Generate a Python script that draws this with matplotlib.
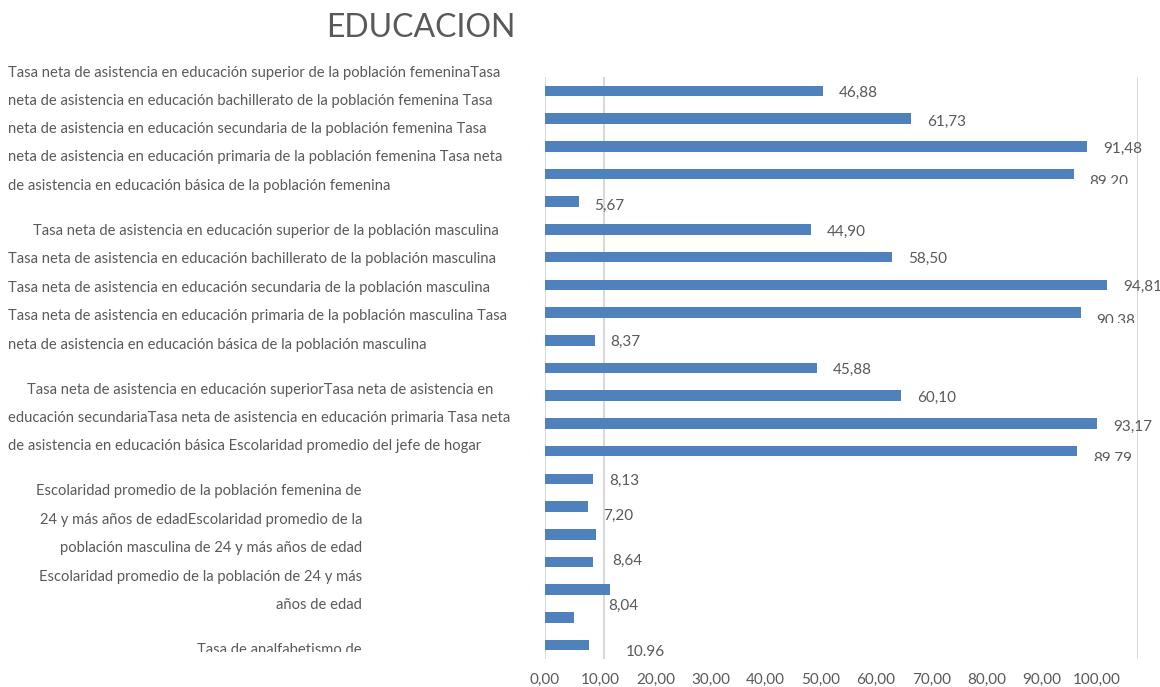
import matplotlib.pyplot as plt
from matplotlib.ticker import FixedLocator, FuncFormatter
from matplotlib.transforms import Bbox, TransformedBbox

plt.rcParams['font.family'] = ['Lato', 'DejaVu Sans']

# valores de las barras, de arriba hacia abajo
valores = [46.88, 61.73, 91.48, 89.20, 5.67, 44.90, 58.50, 94.81, 90.38, 8.37,
           45.88, 60.10, 93.17, 89.79, 8.13, 7.20, 8.64, 8.04, 10.96, 4.85, 7.50]
etiquetas = ['46,88', '61,73', '91,48', '89,20', '5,67', '44,90', '58,50', '94,81',
             '90,38', '8,37', '45,88', '60,10', '93,17', '89,79', '8,13', '7,20',
             '8,64', '8,04', '10.96', '', '']
ticks_eje = [0, 10, 20, 30, 40, 50, 60, 70, 80, 90, 100]

# las etiquetas del original quedaron corridas hacia abajo (px)
desp = [2, 3, 3, 8, 4, 2, 2, 2, 8, 2, 2, 2, 3, 8, 2, 9, 27, 44, 62, 0, 0]
cortadas = [3, 8, 13]

# textos de categoria (quedaron amontonados a la izquierda)
bloques = [
    (8, 73, 'left', 'Tasa neta de asistencia en educación superior de la población femeninaTasa'),
    (8, 101, 'left', 'neta de asistencia en educación bachillerato de la población femenina Tasa'),
    (8, 129, 'left', 'neta de asistencia en educación secundaria de la población femenina Tasa'),
    (8, 157, 'left', 'neta de asistencia en educación primaria de la población femenina Tasa neta'),
    (8, 186, 'left', 'de asistencia en educación básica de la población femenina'),
    (33, 231, 'left', 'Tasa neta de asistencia en educación superior de la población masculina'),
    (8, 259, 'left', 'Tasa neta de asistencia en educación bachillerato de la población masculina'),
    (8, 288, 'left', 'Tasa neta de asistencia en educación secundaria de la población masculina'),
    (8, 316, 'left', 'Tasa neta de asistencia en educación primaria de la población masculina Tasa'),
    (8, 345, 'left', 'neta de asistencia en educación básica de la población masculina'),
    (27, 390, 'left', 'Tasa neta de asistencia en educación superiorTasa neta de asistencia en'),
    (8, 418, 'left', 'educación secundariaTasa neta de asistencia en educación primaria Tasa neta'),
    (8, 446, 'left', 'de asistencia en educación básica Escolaridad promedio del jefe de hogar'),
    (362, 491, 'right', 'Escolaridad promedio de la población femenina de'),
    (362, 520, 'right', '24 y más años de edadEscolaridad promedio de la'),
    (362, 548, 'right', 'población masculina de 24 y más años de edad'),
    (362, 577, 'right', 'Escolaridad promedio de la población de 24 y más'),
    (362, 605, 'right', 'años de edad'),
    (362, 650, 'right', 'Tasa de analfabetismo de'),
]

W, H = 1160, 687
gris = '#595959'
azul = '#4F81BD'

fig = plt.figure(figsize=(W / 100, H / 100), dpi=100)
ax = fig.add_axes([544.9 / W, 1 - 659 / H, 592.9 / W, 582 / H])

n = len(valores)
pos = [n - 1 - i for i in range(n)]
ax.barh(pos, valores, height=0.38, color=azul, zorder=3)
ax.set_xlim(0, 100)
ax.set_ylim(-0.5, n - 0.5)

ax.xaxis.set_major_locator(FixedLocator([0, 10, 100]))
ax.grid(axis='x', color='#D9D9D9', linewidth=1.5, zorder=0)
ax.tick_params(axis='both', length=0, labelbottom=False, labelleft=False)
for s in ax.spines.values():
    s.set_visible(False)

for i, (v, t) in enumerate(zip(valores, etiquetas)):
    if not t:
        continue
    txt = ax.annotate(t, (v, pos[i]), xytext=(11.5, -desp[i] * 0.72),
                      textcoords='offset points', ha='left', va='center',
                      fontsize=11, color=gris, annotation_clip=False)
    if i in cortadas:
        caja = Bbox([[-50, pos[i] - 0.37], [200, pos[i] + 1]])
        txt.set_clip_box(TransformedBbox(caja, ax.transData))
        txt.set_clip_on(True)

# eje de valores del original, desfasado respecto de las barras
esc = 1.0741
sec = ax.secondary_xaxis('bottom', functions=(lambda v: v * esc, lambda u: u / esc))
sec.xaxis.set_major_locator(FixedLocator(ticks_eje))
sec.xaxis.set_major_formatter(FuncFormatter(lambda u, p: f'{u:.2f}'.replace('.', ',')))
sec.tick_params(length=0, labelsize=11, labelcolor=gris, pad=10)
sec.spines['bottom'].set_visible(False)

for x, y, ha, t in bloques:
    tx = fig.text(x / W, 1 - y / H, t, ha=ha, va='center', fontsize=10.6, color=gris)
    if y > 640:
        tx.set_clip_box(TransformedBbox(Bbox([[0, 1 - 652 / H], [1, 1]]), fig.transFigure))
        tx.set_clip_on(True)

fig.text(421 / W, 1 - 28 / H, 'EDUCACION', ha='center', va='center', fontsize=23, color=gris)

fig.savefig('out.png', dpi=100)
